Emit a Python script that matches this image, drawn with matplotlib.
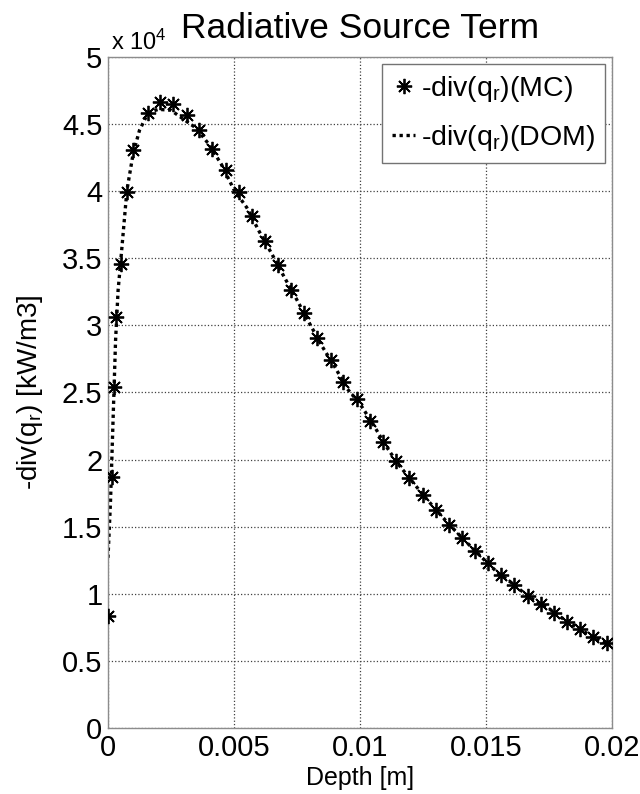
import matplotlib
matplotlib.use("Agg")
import matplotlib.pyplot as plt
from matplotlib.ticker import FuncFormatter, MultipleLocator

plt.rcParams['font.family'] = ['Liberation Sans', 'DejaVu Sans']
plt.rcParams['mathtext.default'] = 'regular'

# Monte Carlo results (depth [m], -div(q_r) [kW/m3])
mc_depth = [0.0, 0.00015, 0.00022, 0.0003, 0.0005, 0.00074, 0.001, 0.00157,
            0.00206, 0.00259, 0.00312, 0.00361, 0.00414, 0.00467, 0.0052,
            0.0057, 0.00623, 0.00673, 0.00726, 0.00779, 0.00828, 0.00884,
            0.00934, 0.00987, 0.0104, 0.01093, 0.01143, 0.01196, 0.01249,
            0.01302, 0.01353, 0.01406, 0.01458, 0.01507, 0.0156, 0.01612,
            0.01665, 0.01717, 0.0177, 0.01823, 0.01874, 0.01923, 0.01979]
mc_value = [8360, 18670, 25390, 30610, 34590, 39930, 43040, 45860,
            46650, 46530, 45650, 44590, 43170, 41550, 39930,
            38120, 36280, 34520, 32670, 30940, 29070, 27450,
            25760, 24520, 22900, 21340, 19870, 18630, 17380,
            16240, 15140, 14150, 13200, 12260, 11410, 10670,
            9850, 9230, 8560, 7930, 7360, 6790, 6320]

# Discrete ordinates results
dom_depth = [0.0, 0.0001, 0.0002, 0.0003, 0.0004, 0.0005, 0.00075, 0.001,
             0.00125, 0.0015, 0.00175, 0.002, 0.0025, 0.003, 0.0035, 0.004,
             0.0045, 0.005, 0.0055, 0.006, 0.0065, 0.007, 0.0075, 0.008,
             0.0085, 0.009, 0.0095, 0.01, 0.0105, 0.011, 0.0115, 0.012,
             0.0125, 0.013, 0.0135, 0.014, 0.0145, 0.015, 0.0155, 0.016,
             0.0165, 0.017, 0.0175, 0.018, 0.0185, 0.019, 0.0195, 0.0198]
dom_value = [12680, 16930, 22900, 28870, 32600, 34690, 40060, 42820,
             44540, 45500, 45950, 46100, 46030, 45360, 44700, 43500,
             42000, 40100, 38800, 37000, 35330, 33580, 31890, 30140,
             28430, 26910, 25260, 24150, 22700, 21100, 19700, 18540,
             17380, 16290, 15250, 14270, 13330, 12400, 11510, 10840,
             10080, 9400, 8900, 8210, 7620, 7060, 6560, 6300]

x_ticks = [0, 0.005, 0.01, 0.015, 0.02]
x_tick_labels = ['0', '0.005', '0.01', '0.015', '0.02']

fig = plt.figure(figsize=(6.4, 7.94), dpi=100)
ax = fig.add_axes([108/640, 1 - 728/794, (612-108)/640, (728-57)/794])

ax.plot(mc_depth, mc_value, linestyle='none', marker=(8, 2, 0), markersize=11,
        markeredgewidth=1.3, color='black', label='-div(q$_r$)(MC)', zorder=3)
ax.plot(dom_depth, dom_value, linestyle=(0, (1, 1.1)), linewidth=2.4,
        color='black', label='-div(q$_r$)(DOM)', zorder=2)

ax.set_xlim(0, 0.02)
ax.set_ylim(0, 50000)
ax.set_xticks(x_ticks)
ax.set_xticklabels(x_tick_labels)
ax.yaxis.set_major_locator(MultipleLocator(5000))
ax.yaxis.set_major_formatter(FuncFormatter(lambda v, p: ('%g' % (v / 1e4))))

ax.grid(True, linestyle=':', color='0.25', linewidth=0.9)
ax.set_axisbelow(True)
for s in ax.spines.values():
    s.set_color('0.55')
    s.set_linewidth(1.0)
ax.tick_params(axis='both', which='both', direction='in', length=0,
               labelsize=21, pad=4)

ax.set_title('Radiative Source Term', fontsize=25.5, pad=14)
ax.set_xlabel('Depth [m]', fontsize=18, labelpad=3)
ax.set_ylabel('-div(q$_r$) [kW/m3]', fontsize=20)
ax.yaxis.set_label_coords(-0.125, 0.5)
ax.text(0.005, 1.003, 'x 10$^4$', transform=ax.transAxes, fontsize=17,
        ha='left', va='bottom')

leg = ax.legend(loc='upper right', fontsize=20.5, fancybox=False, framealpha=1,
                edgecolor='0.45', handlelength=0.8, handletextpad=0.2,
                borderaxespad=0.25, borderpad=0.35, labelspacing=0.65)
leg.get_frame().set_linewidth(1.0)

fig.savefig('out.png', dpi=100)
